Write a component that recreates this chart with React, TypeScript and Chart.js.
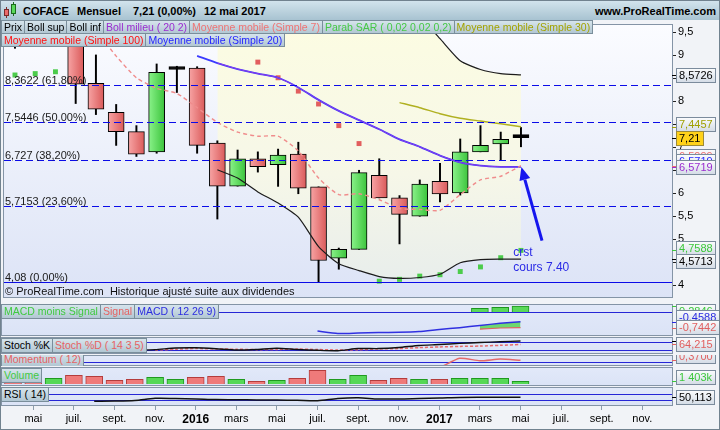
import React, { useEffect, useRef } from 'react';
import { Chart, registerables } from 'chart.js';

Chart.register(...registerables);

const FONT = '"Liberation Sans", Arial, Helvetica, sans-serif';
const N = null;

// ---------- DATA (monthly, Apr 2015 -> May 2017) ----------
const months = [
  'avr. 2015', 'mai 2015', 'juin 2015', 'juil. 2015', 'août 2015', 'sept. 2015',
  'oct. 2015', 'nov. 2015', 'déc. 2015', 'janv. 2016', 'févr. 2016', 'mars 2016',
  'avr. 2016', 'mai 2016', 'juin 2016', 'juil. 2016', 'août 2016', 'sept. 2016',
  'oct. 2016', 'nov. 2016', 'déc. 2016', 'janv. 2017', 'févr. 2017', 'mars 2017',
  'avr. 2017', 'mai 2017',
];
const openP = [9.6, 9.5, 9.3, 9.5, 8.39, 7.76, 7.34, 6.9, 8.69, 8.72, 7.09, 6.155, 6.75, 6.62, 6.85, 6.14, 4.59, 4.78, 6.39, 5.9, 5.5, 6.26, 6.01, 6.9, 7.07, 7.21];
const highP = [9.85, 9.8, 9.75, 9.6, 9.006, 7.93, 7.47, 8.81, 8.76, 8.75, 7.14, 6.94, 6.9, 6.96, 7.11, 6.14, 4.81, 6.5, 6.75, 5.95, 6.29, 6.65, 7.18, 7.47, 7.33, 7.43];
const lowP = [9.15, 9.2, 9.2, 7.95, 7.71, 7.04, 6.8, 6.87, 8.19, 6.87, 5.44, 6.155, 6.46, 6.15, 5.99, 4.08, 4.35, 4.78, 5.9, 4.9, 5.5, 5.81, 5.96, 6.9, 6.73, 7.01];
const closeP = [9.35, 9.3, 9.5, 8.37, 7.83, 7.34, 6.85, 8.63, 8.69, 7.04, 6.155, 6.75, 6.58, 6.83, 6.11, 4.54, 4.78, 6.45, 5.9, 5.54, 6.2, 5.985, 6.9, 7.04, 7.17, 7.21];
const volumeK = [2600, 2600, 2950, 4500, 4000, 1900, 2450, 3500, 2450, 3500, 4000, 2450, 1400, 1900, 2950, 7100, 2450, 4500, 1900, 2950, 2450, 2450, 2950, 2950, 2950, 1403];

const ma7 = [10.3, 10.2, 10.05, 9.8, 9.52, 8.98, 8.51, 8.28, 8.17, 7.86, 7.54, 7.33, 7.24, 7.24, 6.92, 6.33, 5.97, 5.99, 5.86, 5.67, 5.65, 5.63, 5.97, 6.29, 6.37, 6.5999];
const ma20 = [N, N, N, N, N, N, N, N, N, 8.985, 8.83, 8.7, 8.6, 8.51, 8.3, 8.03, 7.79, 7.59, 7.39, 7.17, 7.01, 6.82, 6.67, 6.6, 6.575, 6.5719];
const ma30 = [N, N, N, N, N, N, N, N, N, N, N, N, N, N, N, N, N, N, N, 7.97, 7.86, 7.73, 7.63, 7.57, 7.51, 7.4457];
const bollSup = [N, N, N, N, N, N, N, N, N, N, 11.15, 11.07, 11.17, 11.23, 11.12, 11.22, 11.11, 10.86, 10.59, 10.19, 9.85, 9.36, 8.88, 8.69, 8.6, 8.5726];
const bollMid = [N, N, N, N, N, N, N, N, N, N, 8.83, 8.7, 8.6, 8.51, 8.3, 8.03, 7.79, 7.59, 7.39, 7.17, 7.01, 6.82, 6.67, 6.6, 6.575, 6.5719];
const bollInf = [N, N, N, N, N, N, N, N, N, N, 6.51, 6.33, 6.03, 5.79, 5.48, 4.84, 4.47, 4.32, 4.19, 4.15, 4.17, 4.24, 4.49, 4.56, 4.57, 4.5713];
const sarBull = [8.57, 8.6, 8.64, N, N, N, N, N, N, N, N, N, N, N, N, N, N, N, 4.09, 4.13, 4.2, 4.23, 4.3, 4.4, 4.6, 4.7588];
const sarBear = [N, N, N, 9.95, 9.92, 9.85, 9.78, 9.7, 9.62, 9.55, 9.42, 9.25, 8.85, 8.51, 8.22, 7.94, 7.47, 7.08, N, N, N, N, N, N, N, N];

const macdLine = [N, N, N, N, N, N, N, N, N, N, N, N, N, N, N, -0.905, -1.02, -1.0, -0.976, -0.967, -0.93, -0.833, -0.748, -0.643, -0.538, -0.4588];
const macdSignal = [N, N, N, N, N, N, N, N, N, N, N, N, N, N, N, N, N, N, N, N, N, N, N, -0.819, -0.762, -0.7442];
const macdHist = [N, N, N, N, N, N, N, N, N, N, N, N, N, N, N, N, N, N, N, N, N, N, N, 0.176, 0.224, 0.2846];
const stochK = [N, N, N, N, N, N, 20, 25, 37, 39, 32, 22, 26, 35, 26, 20, 17, 33, 33, 41, 56, 63, 72, 78, 84, 90];
const stochD = [N, N, N, N, N, N, N, 22, 28, 33, 30, 28, 25, 26, 29, 26, 22, 24, 30, 33, 40, 45, 49, 52, 57, 64.215];
const momentum12 = [N, N, N, N, N, N, N, N, N, N, N, N, N, N, -3.39, -3.83, -3.05, -0.89, -0.95, -3.09, -2.49, -1.055, 0.745, 0.29, 0.59, 0.37];
const rsi14 = [N, N, N, N, 24, 25, 29, 43, 42, 39, 35, 34, 32, 32, 30, 27, 42, 47, 39, 39, 42, 45, 49, 50, 50, 50.113];

const priceTicks = [4, 4.5, 5, 5.5, 6, 6.5, 7, 7.5, 8, 8.5, 9, 9.5];
const xTickPos = [1, 3, 5, 7, 9, 11, 13, 15, 17, 19, 21, 23, 25, 27, 29, 31];
const xTickLabels = ['mai', 'juil.', 'sept.', 'nov.', '2016', 'mars', 'mai', 'juil.', 'sept.', 'nov.', '2017', 'mars', 'mai', 'juil.', 'sept.', 'nov.'];
const fibLevels = [8.3622, 7.5446, 6.727, 5.7153, 4.08];
const fibPct = ['61,80%', '50,00%', '38,20%', '23,60%', '0,00%'];
const noteLines = ['crst', 'cours 7.40'];
const noteAnchor = { x: 24.62, y1: 4.72, y2: 4.38 };
const arrowFrom = { x: 26.04, y: 4.97 };
const arrowTo = { x: 25.02, y: 6.57 };

// ---------- helpers ----------
const X_MIN = -0.542;
const X_MAX = 32.463;
const last = (a: (number | null)[]) => a[a.length - 1] as number;
const fmt = (v: number) => String(v).replace('.', ',');
const fin = (...v: number[]) => v.every((n) => Number.isFinite(n));
const pts = (a: (number | null)[]) =>
  a.map((v, i) => (v == null ? null : { x: i, y: v })).filter((p) => p !== null) as { x: number; y: number }[];

type VLabel = { v: number; color: string; text?: string; bg?: string; border?: string; dy?: number; tickOnly?: boolean };

function drawValueLabels(chart: any, labels: VLabel[]) {
  const { ctx, chartArea: a, scales } = chart;
  const ys = scales.y;
  ctx.save();
  ctx.font = `11px ${FONT}`;
  ctx.textBaseline = 'middle';
  for (const l of labels) {
    const py = ys.getPixelForValue(l.v);
    if (!fin(py)) continue;
    const ty = Math.round(py) + 0.5;
    ctx.strokeStyle = l.color;
    ctx.lineWidth = 1;
    ctx.beginPath();
    ctx.moveTo(a.right, ty);
    ctx.lineTo(a.right + 5, ty);
    ctx.stroke();
    if (l.tickOnly) continue;
    const text = l.text ?? fmt(l.v);
    const w = Math.ceil(ctx.measureText(text).width) + 5;
    const h = 14;
    const x0 = a.right + 4.5;
    const y0 = Math.round(py + (l.dy ?? 0) - h / 2) + 0.5;
    if (l.bg) {
      ctx.fillStyle = l.bg;
    } else {
      const g = ctx.createLinearGradient(0, y0, 0, y0 + h);
      g.addColorStop(0, '#fbfcfd');
      g.addColorStop(1, '#d4dce6');
      ctx.fillStyle = g;
    }
    ctx.fillRect(x0, y0, w, h);
    ctx.strokeStyle = l.border ?? '#7b8b9c';
    ctx.strokeRect(x0, y0, w, h);
    ctx.fillStyle = l.bg ? '#000' : l.color;
    ctx.fillText(text, x0 + 2.5, y0 + h / 2 + 0.5);
  }
  ctx.restore();
}

function panelPlugin(opts: { bg: [string, string]; hlines?: number[]; labels?: VLabel[]; overlay?: (c: any) => void }) {
  return {
    id: 'panel',
    beforeDraw(chart: any) {
      const { ctx, chartArea: a } = chart;
      if (!a || !fin(a.top, a.bottom)) return;
      const g = ctx.createLinearGradient(0, a.top, 0, a.bottom);
      g.addColorStop(0, opts.bg[0]);
      g.addColorStop(1, opts.bg[1]);
      ctx.save();
      ctx.fillStyle = g;
      ctx.fillRect(a.left, a.top, a.right - a.left, a.bottom - a.top);
      ctx.restore();
    },
    beforeDatasetsDraw(chart: any) {
      if (!opts.hlines) return;
      const { ctx, chartArea: a, scales } = chart;
      ctx.save();
      ctx.strokeStyle = '#2626d6';
      ctx.lineWidth = 1;
      for (const v of opts.hlines) {
        const y = Math.round(scales.y.getPixelForValue(v)) + 0.5;
        ctx.beginPath();
        ctx.moveTo(a.left, y);
        ctx.lineTo(a.right, y);
        ctx.stroke();
      }
      ctx.restore();
    },
    afterDatasetsDraw(chart: any) {
      if (opts.overlay) opts.overlay(chart);
    },
    afterDraw(chart: any) {
      const { ctx, chartArea: a } = chart;
      ctx.save();
      ctx.strokeStyle = '#8494a6';
      ctx.lineWidth = 1;
      ctx.strokeRect(a.left - 0.5, a.top + 0.5, a.right - a.left + 1, a.bottom - a.top - 1);
      ctx.restore();
      if (opts.labels) drawValueLabels(chart, opts.labels);
    },
  };
}

function mainOverlay(chart: any) {
  const { ctx, chartArea: a, scales } = chart;
  const ys = scales.y;
  const xs = scales.x;
  ctx.save();
  ctx.beginPath();
  ctx.rect(a.left, a.top, a.right - a.left, a.bottom - a.top);
  ctx.clip();
  ctx.font = `11px ${FONT}`;
  fibLevels.forEach((lv, k) => {
    const y = Math.round(ys.getPixelForValue(lv)) + 0.5;
    ctx.strokeStyle = '#0b0be8';
    ctx.lineWidth = 1;
    ctx.setLineDash(k === fibLevels.length - 1 ? [] : [7, 4]);
    ctx.beginPath();
    ctx.moveTo(a.left, y);
    ctx.lineTo(a.right, y);
    ctx.stroke();
    ctx.setLineDash([]);
    ctx.fillStyle = '#1a1a1a';
    ctx.textBaseline = 'alphabetic';
    ctx.fillText(`${fmt(lv)} (${fibPct[k]})`, a.left + 1, y - 2);
  });
  ctx.fillStyle = '#111';
  ctx.textBaseline = 'middle';
  ctx.fillText('© ProRealTime.com  Historique ajusté suite aux dividendes', a.left + 1, a.bottom - 6);

  // arrow annotation
  const fx = xs.getPixelForValue(arrowFrom.x);
  const fy = ys.getPixelForValue(arrowFrom.y);
  const tx = xs.getPixelForValue(arrowTo.x);
  const ty = ys.getPixelForValue(arrowTo.y);
  const ang = Math.atan2(ty - fy, tx - fx);
  const hl = 13;
  const hw = 5.5;
  const bx = tx - hl * Math.cos(ang);
  const by = ty - hl * Math.sin(ang);
  ctx.strokeStyle = '#1616ee';
  ctx.fillStyle = '#1616ee';
  ctx.lineWidth = 3;
  ctx.beginPath();
  ctx.moveTo(fx, fy);
  ctx.lineTo(bx, by);
  ctx.stroke();
  ctx.beginPath();
  ctx.moveTo(tx, ty);
  ctx.lineTo(bx + hw * Math.sin(ang), by - hw * Math.cos(ang));
  ctx.lineTo(bx - hw * Math.sin(ang), by + hw * Math.cos(ang));
  ctx.closePath();
  ctx.fill();

  ctx.font = `12px ${FONT}`;
  ctx.fillStyle = '#2a2ae6';
  ctx.textBaseline = 'middle';
  const nx = xs.getPixelForValue(noteAnchor.x);
  ctx.fillText(noteLines[0], nx, ys.getPixelForValue(noteAnchor.y1));
  ctx.fillText(noteLines[1], nx, ys.getPixelForValue(noteAnchor.y2));
  ctx.restore();
}

function xScale(display = false): any {
  return {
    type: 'linear',
    min: X_MIN,
    max: X_MAX,
    offset: false,
    display,
    grid: { display, offset: false, drawOnChartArea: false, drawTicks: true, tickLength: 4, color: '#8d9cac' },
    border: { display: false },
    afterBuildTicks: (s: any) => {
      s.ticks = xTickPos.map((v) => ({ value: v }));
    },
    afterFit: (s: any) => {
      if (display) s.height = 24;
      s.paddingLeft = 0;
      s.paddingRight = 0;
    },
    ticks: {
      autoSkip: false,
      maxRotation: 0,
      minRotation: 0,
      padding: 2,
      color: '#000',
      font: (c: any) => (/^\d{4}$/.test(xTickLabels[c.index] ?? '') ? { size: 12, weight: 'bold' } : { size: 11 }),
      callback: (v: any) => {
        const k = xTickPos.indexOf(Number(v));
        return k >= 0 ? xTickLabels[k] : '';
      },
    },
  };
}

function hiddenY(min: number, max: number): any {
  return { type: 'linear', min, max, display: false };
}

const baseOptions = (scales: any, padRight: number, padBottom = 0): any => ({
  responsive: false,
  animation: false,
  events: [],
  layout: { padding: { left: 2, right: padRight, top: 0, bottom: padBottom } },
  plugins: { legend: { display: false }, tooltip: { enabled: false }, filler: { propagate: false, drawTime: 'beforeDatasetsDraw' } },
  scales,
});

const lineDs = (data: (number | null)[], color: string, width: number, extra: any = {}) => ({
  type: 'line',
  data: pts(data),
  borderColor: color,
  borderWidth: width,
  pointRadius: 0,
  tension: 0.2,
  fill: false,
  ...extra,
});

const bollFill = (c: any) => {
  const a = c.chart.chartArea;
  if (!a || !fin(a.top, a.bottom) || a.bottom <= a.top) return 'rgb(248,248,230)';
  const g = c.chart.ctx.createLinearGradient(0, a.top, 0, a.bottom);
  g.addColorStop(0, 'rgb(252,252,226)');
  g.addColorStop(0.55, 'rgb(246,247,232)');
  g.addColorStop(1, 'rgb(230,236,236)');
  return g;
};

const candleFill = (c: any) => {
  const i = c.raw && typeof c.raw.x === 'number' ? c.raw.x : c.dataIndex;
  const o = openP[i];
  const cl = closeP[i];
  if (o === cl) return '#000';
  const up = cl > o;
  const flat = up ? '#5cd65c' : '#ec7676';
  const xs = c.chart.scales && c.chart.scales.x;
  if (!xs || c.type !== 'data') return flat;
  const px = xs.getPixelForValue(i);
  if (!fin(px)) return flat;
  const g = c.chart.ctx.createLinearGradient(px - 8, 0, px + 8, 0);
  if (up) {
    g.addColorStop(0, '#8af28a');
    g.addColorStop(1, '#3cc43c');
  } else {
    g.addColorStop(0, '#f7a4a4');
    g.addColorStop(1, '#da5a5a');
  }
  return g;
};

function mainConfig(): any {
  const wicks = months.map((_, i) => ({ x: i, y: [lowP[i], highP[i]] }));
  const bodies = months.map((_, i) => ({ x: i, y: [openP[i], closeP[i]] }));
  return {
    type: 'bar',
    data: {
      datasets: [
        lineDs(bollSup, '#1c1c1c', 1.2, { fill: '+1', backgroundColor: bollFill, order: 6 }),
        lineDs(bollInf, '#1c1c1c', 1.2, { order: 6 }),
        lineDs(ma20, '#3a3aff', 1.8, { order: 4 }),
        lineDs(bollMid, '#8f3ae8', 1.0, { order: 3 }),
        lineDs(ma7, '#f08c8c', 1.4, { borderDash: [4, 3], order: 2 }),
        lineDs(ma30, '#b0b020', 1.5, { order: 2 }),
        { type: 'line', data: pts(sarBull), showLine: false, pointStyle: 'rect', pointRadius: 3.5, pointBorderWidth: 0, pointBackgroundColor: '#4ccc4c', order: 7 },
        { type: 'line', data: pts(sarBear), showLine: false, pointStyle: 'rect', pointRadius: 3.5, pointBorderWidth: 0, pointBackgroundColor: '#e25e5e', order: 7 },
        { type: 'bar', data: wicks, grouped: false, barThickness: 1.3, backgroundColor: '#000', borderWidth: 0, order: 9 },
        { type: 'bar', data: bodies, grouped: false, barThickness: 16, backgroundColor: candleFill, borderColor: '#000', borderWidth: 1, borderSkipped: false, minBarLength: 3, order: 8 },
      ],
    },
    options: baseOptions(
      {
        x: xScale(false),
        y: {
          type: 'linear',
          position: 'right',
          min: 3.7246,
          max: 9.678,
          afterBuildTicks: (s: any) => {
            s.ticks = priceTicks.map((v) => ({ value: v }));
          },
          afterFit: (s: any) => {
            s.width = 48;
            s.paddingTop = 0;
            s.paddingBottom = 0;
          },
          grid: { drawOnChartArea: false, drawTicks: true, tickLength: 4, color: '#222' },
          border: { display: false },
          ticks: { autoSkip: false, color: '#000', font: { size: 11 }, padding: 2, callback: (v: any) => fmt(Number(v)) },
        },
      },
      0,
      1
    ),
    plugins: [
      panelPlugin({
        bg: ['#fbfcff', '#dce3f6'],
        overlay: mainOverlay,
        labels: [
          { v: last(bollSup), color: '#000' },
          { v: last(ma30), color: '#a0a000', dy: -3 },
          { v: last(closeP), color: '#000', bg: '#ffd21a', border: '#9c8a3a' },
          { v: last(ma7), color: '#ee6e6e', dy: -10 },
          { v: last(ma20), color: '#2a2aff', dy: -6 },
          { v: last(bollMid), color: '#9a2ccf' },
          { v: last(sarBull), color: '#3cc83c', dy: -2 },
          { v: last(bollInf), color: '#000', dy: 2 },
        ],
      }),
    ],
  };
}

const LOWER_BG: [string, string] = ['#e2e9f9', '#dbe3f6'];

function macdConfig(): any {
  const fillPart = macdLine.map((v, i) => (macdSignal[i] == null ? null : v));
  return {
    type: 'bar',
    data: {
      datasets: [
        lineDs(fillPart, 'rgba(0,0,0,0)', 0, { fill: '+1', backgroundColor: 'rgba(96,214,96,0.9)', tension: 0, order: 3 }),
        lineDs(macdSignal, '#e06262', 1.2, { tension: 0, order: 1 }),
        lineDs(macdLine, '#3030e0', 1.5, { tension: 0.2, order: 0 }),
        {
          type: 'bar',
          data: pts(macdHist),
          grouped: false,
          barThickness: 17,
          backgroundColor: '#5ad85a',
          borderColor: '#1f951f',
          borderWidth: 1,
          order: 4,
        },
      ],
    },
    options: baseOptions({ x: xScale(false), y: hiddenY(-1.143, 0.381) }, 48),
    plugins: [
      panelPlugin({
        bg: LOWER_BG,
        hlines: [0],
        labels: [
          { v: last(macdHist), color: '#3cc83c', dy: 5 },
          { v: last(macdLine), color: '#2a2ae0', dy: -5 },
          { v: last(macdSignal), color: '#e06060', dy: -1 },
        ],
      }),
    ],
  };
}

function stochConfig(): any {
  return {
    type: 'line',
    data: {
      datasets: [
        lineDs(stochD, '#e66a6a', 1.5, { borderDash: [3, 2], order: 1 }),
        lineDs(stochK, '#111', 1.4, { order: 0 }),
      ],
    },
    options: baseOptions({ x: xScale(false), y: hiddenY(-7.75, 119.75) }, 48),
    plugins: [
      panelPlugin({
        bg: LOWER_BG,
        hlines: [80, 20],
        labels: [
          { v: last(stochK), color: '#000', tickOnly: true },
          { v: last(stochD), color: '#e06060' },
        ],
      }),
    ],
  };
}

function momentumConfig(): any {
  return {
    type: 'line',
    data: { datasets: [lineDs(momentum12, '#e46a6a', 1.5, { tension: 0.2 })] },
    options: baseOptions({ x: xScale(false), y: hiddenY(-0.685, 1.352) }, 48),
    plugins: [
      panelPlugin({
        bg: LOWER_BG,
        hlines: [0],
        labels: [{ v: last(momentum12), text: last(momentum12).toFixed(4).replace('.', ','), color: '#e06060', dy: -4 }],
      }),
    ],
  };
}

function volumeConfig(): any {
  const up = months.map((_, i) => closeP[i] >= openP[i]);
  const v = last(volumeK);
  return {
    type: 'bar',
    data: {
      datasets: [
        {
          type: 'bar',
          data: pts(volumeK),
          grouped: false,
          barThickness: 17,
          backgroundColor: up.map((u) => (u ? '#56d856' : '#ef7a7a')),
          borderColor: up.map((u) => (u ? '#1f9a1f' : '#b43c3c')),
          borderWidth: 1,
        },
      ],
    },
    options: baseOptions({ x: xScale(false), y: hiddenY(-1040, 8840) }, 48),
    plugins: [
      panelPlugin({
        bg: LOWER_BG,
        labels: [{ v, text: `${Math.floor(v / 1000)} ${String(v % 1000).padStart(3, '0')}k`, color: '#3cc83c', dy: -4.5 }],
      }),
    ],
  };
}

function rsiConfig(): any {
  return {
    type: 'line',
    data: { datasets: [lineDs(rsi14, '#111', 1.5, { tension: 0.3 })] },
    options: baseOptions({ x: xScale(true), y: hiddenY(-8, 118.7) }, 48),
    plugins: [panelPlugin({ bg: LOWER_BG, hlines: [70, 30], labels: [{ v: last(rsi14), color: '#000' }] })],
  };
}

// ---------- HTML pieces ----------
function Tag({ text, color, h = 14 }: { text: string; color: string; h?: number }) {
  return (
    <span
      style={{
        display: 'inline-block',
        height: h,
        lineHeight: `${h - 2}px`,
        boxSizing: 'border-box',
        border: '1px solid #7a8e9b',
        marginRight: -1,
        padding: '0 2px',
        background: 'linear-gradient(#d6e4ec, #b2c7d3)',
        color,
        fontSize: 10.5,
        whiteSpace: 'nowrap',
      }}
    >
      {text}
    </span>
  );
}

function TagRow({ items, top, left = 1, h = 14 }: { items: [string, string][]; top: number; left?: number; h?: number }) {
  return (
    <div style={{ position: 'absolute', left, top, display: 'flex', height: h }}>
      {items.map(([t, c], k) => (
        <Tag key={k} text={t} color={c} h={h} />
      ))}
    </div>
  );
}

const canvasStyle = (top: number): React.CSSProperties => ({ position: 'absolute', left: 0, top, display: 'block' });

export default function App() {
  const mainRef = useRef<HTMLCanvasElement>(null);
  const macdRef = useRef<HTMLCanvasElement>(null);
  const stochRef = useRef<HTMLCanvasElement>(null);
  const momRef = useRef<HTMLCanvasElement>(null);
  const volRef = useRef<HTMLCanvasElement>(null);
  const rsiRef = useRef<HTMLCanvasElement>(null);

  useEffect(() => {
    Chart.defaults.font.family = FONT;
    Chart.defaults.color = '#000';
    const charts: Chart[] = [];
    const specs: [React.RefObject<HTMLCanvasElement>, () => any][] = [
      [mainRef, mainConfig],
      [macdRef, macdConfig],
      [stochRef, stochConfig],
      [momRef, momentumConfig],
      [volRef, volumeConfig],
      [rsiRef, rsiConfig],
    ];
    for (const [ref, cfg] of specs) {
      try {
        charts.push(new Chart(ref.current as HTMLCanvasElement, cfg()));
      } catch (e) {
        console.error(e);
      }
    }
    return () => charts.forEach((c) => c.destroy());
  }, []);

  const hdrText: React.CSSProperties = { position: 'absolute', top: 1, lineHeight: '20px', fontSize: 11, fontWeight: 'bold', color: '#000', whiteSpace: 'nowrap' };

  return (
    <div style={{ position: 'absolute', left: 0, top: 0, width: 720, height: 430, background: '#f1f3f7', overflow: 'hidden', fontFamily: FONT }}>
      <div style={{ position: 'absolute', left: 0, top: 0, width: 720, height: 20, background: 'linear-gradient(#d4e5ee, #a8c3d1)' }}>
        <div style={{ position: 'absolute', left: 6, top: 7, width: 1, height: 11, background: '#7a2a2a' }} />
        <div style={{ position: 'absolute', left: 4, top: 9, width: 5, height: 7, background: '#ea6a6a', border: '1px solid #7a2a2a', boxSizing: 'border-box' }} />
        <div style={{ position: 'absolute', left: 13, top: 2, width: 1, height: 14, background: '#1c6a1c' }} />
        <div style={{ position: 'absolute', left: 11, top: 4, width: 5, height: 10, background: '#5ad85a', border: '1px solid #1c6a1c', boxSizing: 'border-box' }} />
        <span style={{ ...hdrText, left: 23 }}>COFACE</span>
        <span style={{ ...hdrText, left: 77 }}>Mensuel</span>
        <span style={{ ...hdrText, left: 133 }}>7,21 (0,00%)</span>
        <span style={{ ...hdrText, left: 204 }}>12 mai 2017</span>
        <span style={{ ...hdrText, right: 4 }}>www.ProRealTime.com</span>
      </div>

      <canvas ref={mainRef} width={720} height={282} style={canvasStyle(20)} />
      <canvas ref={macdRef} width={720} height={32} style={canvasStyle(304)} />
      <canvas ref={stochRef} width={720} height={17} style={canvasStyle(337)} />
      <canvas ref={momRef} width={720} height={11} style={canvasStyle(355)} />
      <canvas ref={volRef} width={720} height={19} style={canvasStyle(367)} />
      <canvas ref={rsiRef} width={720} height={43} style={canvasStyle(387)} />

      <TagRow
        top={20}
        items={[
          ['Prix', '#000'],
          ['Boll sup', '#000'],
          ['Boll inf', '#000'],
          ['Boll milieu ( 20 2)', '#9a2ccf'],
          ['Moyenne mobile (Simple 7)', '#ee7474'],
          ['Parab SAR ( 0,02 0,02 0,2)', '#46c846'],
          ['Moyenne mobile (Simple 30)', '#a3a300'],
        ]}
      />
      <TagRow
        top={33}
        items={[
          ['Moyenne mobile (Simple 100)', '#ff1010'],
          ['Moyenne mobile (Simple 20)', '#2424ff'],
        ]}
      />
      <TagRow top={304} h={15} items={[['MACD moins Signal', '#3fca3f'], ['Signal', '#e66262'], ['MACD ( 12 26 9)', '#2d2de0']]} />
      <TagRow top={338} h={15} items={[['Stoch %K', '#000'], ['Stoch %D ( 14 3 5)', '#e66262']]} />
      <div style={{ position: 'absolute', left: 0, top: 355, width: 300, height: 11, overflow: 'hidden' }}>
        <TagRow top={-3} h={15} items={[['Momentum ( 12)', '#e66262']]} />
      </div>
      <TagRow top={368} h={15} items={[['Volume', '#3fca3f']]} />
      <TagRow top={387} h={15} items={[['RSI ( 14)', '#000']]} />

      <div style={{ position: 'absolute', left: 0, top: 0, width: 720, height: 430, border: '1px solid #71828f', boxSizing: 'border-box', pointerEvents: 'none' }} />
    </div>
  );
}
